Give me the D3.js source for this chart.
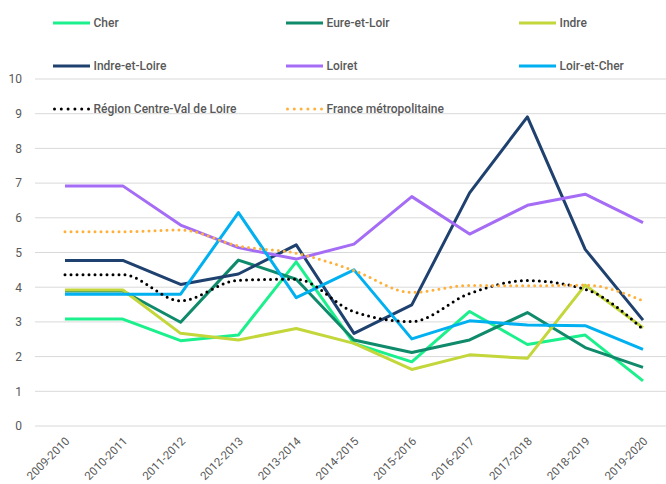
<!DOCTYPE html>
<html>
<head>
<meta charset="utf-8">
<script src="https://cdn.jsdelivr.net/npm/d3@7"></script>
<style>
  body { margin: 0; background: #fff; }
  svg { display: block; font-family: Roboto, "Noto Sans", sans-serif; }
</style>
</head>
<body>
<svg id="chart" width="666" height="484"></svg>
<script>
const years = ["2009-2010", "2010-2011", "2011-2012", "2012-2013", "2013-2014", "2014-2015",
    "2015-2016", "2016-2017", "2017-2018", "2018-2019", "2019-2020"];
const yTicks = [0, 1, 2, 3, 4, 5, 6, 7, 8, 9, 10];

const cher = [3.08, 3.08, 2.46, 2.62, 4.73, 2.38, 1.85, 3.30, 2.35, 2.62, 1.30];
const eureEtLoir = [3.89, 3.89, 2.99, 4.78, 4.23, 2.48, 2.12, 2.48, 3.27, 2.26, 1.69];
const indre = [3.92, 3.92, 2.67, 2.48, 2.81, 2.38, 1.63, 2.05, 1.95, 4.06, 2.83];
const indreEtLoire = [4.77, 4.77, 4.08, 4.38, 5.22, 2.67, 3.49, 6.72, 8.91, 5.09, 3.05];
const loiret = [6.92, 6.92, 5.79, 5.14, 4.81, 5.24, 6.61, 5.53, 6.36, 6.68, 5.86];
const loirEtCher = [3.80, 3.80, 3.80, 6.15, 3.70, 4.50, 2.51, 3.03, 2.91, 2.89, 2.21];
const region = [4.36, 4.36, 3.61, 4.20, 4.23, 3.29, 3.01, 3.82, 4.19, 3.94, 2.79];
const france = [5.60, 5.60, 5.65, 5.19, 4.98, 4.48, 3.85, 4.05, 4.04, 4.06, 3.61];

const series = [
    { name: "Cher", values: cher, color: "#1cf08c", dotted: false },
    { name: "Eure-et-Loir", values: eureEtLoir, color: "#0f8a6b", dotted: false },
    { name: "Indre", values: indre, color: "#c3d63a", dotted: false },
    { name: "Indre-et-Loire", values: indreEtLoire, color: "#1f416f", dotted: false },
    { name: "Loiret", values: loiret, color: "#a56cf5", dotted: false },
    { name: "Loir-et-Cher", values: loirEtCher, color: "#00b0f0", dotted: false },
    { name: "Région Centre-Val de Loire", values: region, color: "#000000", dotted: true },
    { name: "France métropolitaine", values: france, color: "#ffb03b", dotted: true }
];

const svg = d3.select("#chart");
const textColor = "#595959";

const x = d3.scalePoint().domain(years).range([65, 643]);
const y = d3.scaleLinear().domain([0, 10]).range([426, 79]);

// grid
svg.append("g")
    .selectAll("line")
    .data(yTicks)
    .enter().append("line")
    .attr("x1", 35)
    .attr("x2", 666)
    .attr("y1", d => y(d))
    .attr("y2", d => y(d))
    .attr("stroke", "#d9d9d9")
    .attr("stroke-width", 1);

// y axis labels
const yAxis = svg.append("g")
    .attr("transform", "translate(22,0)")
    .call(d3.axisLeft(y).tickValues(yTicks).tickSize(0).tickPadding(0));
yAxis.select(".domain").remove();
yAxis.selectAll("text")
    .attr("fill", textColor)
    .style("font-size", "12px")
    .style("font-family", "Roboto, sans-serif");

// x axis labels
const xAxis = svg.append("g")
    .attr("transform", "translate(0,436)")
    .call(d3.axisBottom(x).tickSize(0).tickPadding(0));
xAxis.select(".domain").remove();
xAxis.selectAll("text")
    .attr("fill", textColor)
    .attr("text-anchor", "end")
    .attr("dy", "0.6em")
    .attr("transform", "translate(0,1) rotate(-45)")
    .style("font-size", "11.5px")
    .style("font-family", "Roboto, sans-serif");

// lines
const straight = d3.line()
    .x((d, i) => x(years[i]))
    .y(d => y(d));
const smooth = d3.line()
    .x((d, i) => x(years[i]))
    .y(d => y(d))
    .curve(d3.curveMonotoneX);

svg.append("g")
    .selectAll("path")
    .data(series)
    .enter().append("path")
    .attr("d", d => d.dotted ? smooth(d.values) : straight(d.values))
    .attr("fill", "none")
    .attr("stroke", d => d.color)
    .attr("stroke-width", 3)
    .attr("stroke-linejoin", "round")
    .attr("stroke-linecap", d => d.dotted ? "round" : "butt")
    .attr("stroke-dasharray", d => d.dotted ? "0,6" : null);

// legend
const legendPos = [[53, 23], [286, 23], [519, 23], [53, 66], [286, 66], [519, 66], [53, 109], [286, 109]];
const legend = svg.append("g")
    .selectAll("g")
    .data(series)
    .enter().append("g")
    .attr("transform", (d, i) => `translate(${legendPos[i][0]},${legendPos[i][1]})`);

legend.append("line")
    .attr("x1", d => d.dotted ? 1.5 : 0)
    .attr("x2", d => d.dotted ? 36 : 37)
    .attr("stroke", d => d.color)
    .attr("stroke-width", 3)
    .attr("stroke-linecap", d => d.dotted ? "round" : "butt")
    .attr("stroke-dasharray", d => d.dotted ? "0,6.8" : null);

legend.append("text")
    .attr("x", 40.5)
    .attr("dy", "0.35em")
    .attr("fill", textColor)
    .style("font-size", "12px")
    .style("font-weight", "500")
    .text(d => d.name);
</script>
</body>
</html>
